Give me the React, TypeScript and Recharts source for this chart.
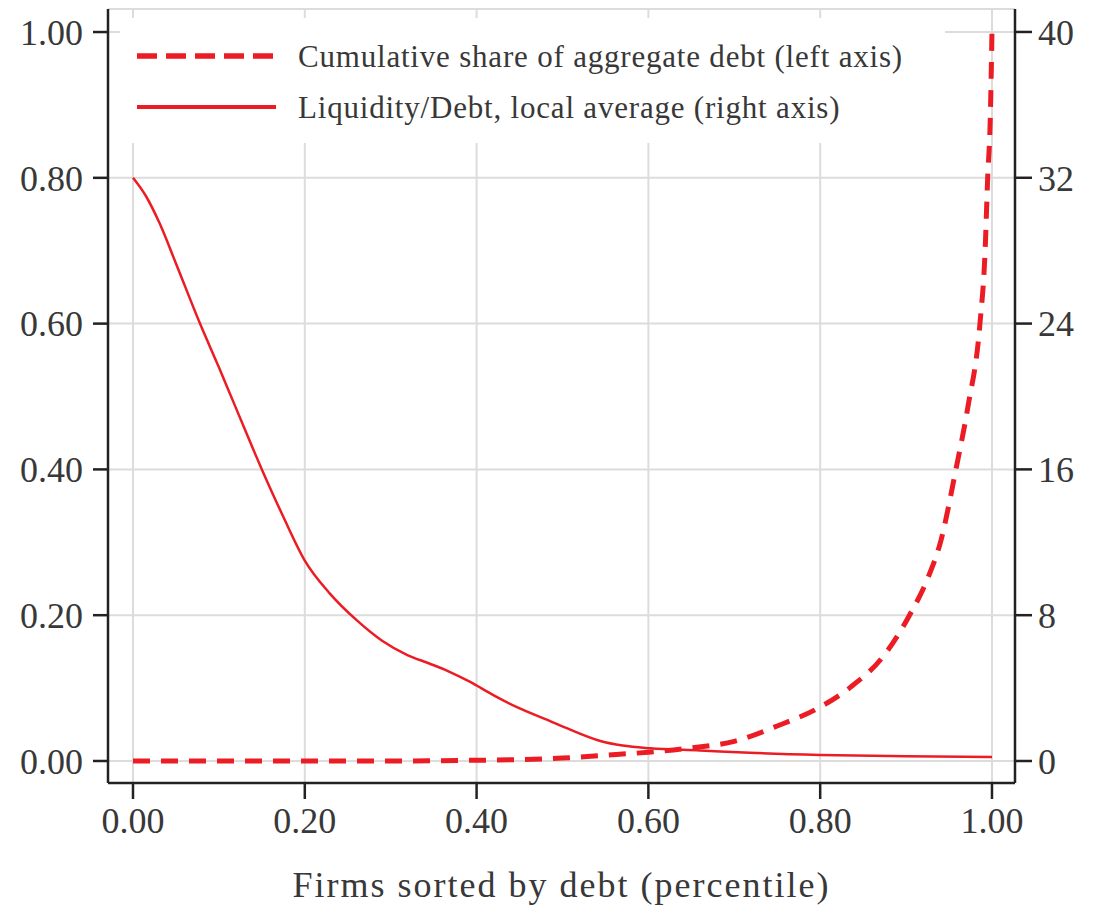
import React from 'react';
import { LineChart, Line, XAxis, YAxis, CartesianGrid, Legend } from 'recharts';

// Cumulative share of aggregate debt (left axis)
const debtPct = [0, 0.1, 0.2, 0.3, 0.4, 0.45, 0.5, 0.55, 0.6, 0.65, 0.7, 0.75, 0.8, 0.835, 0.873, 0.904, 0.925, 0.94, 0.958, 0.972, 0.986, 0.992, 0.995, 0.998, 1.0];
const debtShare = [0, 0, 0, 0, 0.001, 0.002, 0.004, 0.008, 0.012, 0.018, 0.027, 0.048, 0.074, 0.101, 0.143, 0.2, 0.25, 0.3, 0.4, 0.486, 0.6, 0.7, 0.8, 0.88, 1.0];

// Liquidity/Debt, local average (right axis)
const liqPct = [0, 0.015, 0.031, 0.05, 0.078, 0.1, 0.116, 0.15, 0.175, 0.2, 0.229, 0.261, 0.29, 0.32, 0.345, 0.366, 0.392, 0.42, 0.447, 0.485, 0.505, 0.544, 0.57, 0.602, 0.66, 0.718, 0.8, 0.9, 1.0];
const liqRatio = [32.0, 31.0, 29.5, 27.3, 24.0, 21.6, 19.8, 16.0, 13.4, 11.0, 9.2, 7.7, 6.6, 5.8, 5.35, 4.95, 4.35, 3.6, 2.95, 2.2, 1.8, 1.1, 0.85, 0.7, 0.58, 0.45, 0.33, 0.26, 0.22];

const xTicks = [0, 0.2, 0.4, 0.6, 0.8, 1.0];
const leftTicks = [0, 0.2, 0.4, 0.6, 0.8, 1.0];
const rightTicks = [0, 8, 16, 24, 32, 40];

const seriesNames = [
  'Cumulative share of aggregate debt (left axis)',
  'Liquidity/Debt, local average (right axis)',
];
const xLabel = 'Firms sorted by debt (percentile)';

const debtData = debtPct.map((p, i) => ({ p, v: debtShare[i] }));
const liqData = liqPct.map((p, i) => ({ p, r: liqRatio[i] }));

const FONT = '"Liberation Serif", "Times New Roman", serif';
const RED = '#ec1c24';
const AXIS = '#222';
const TXT = '#383838';

const X_DOMAIN: [number, number] = [-0.0291, 1.0268];
const L_DOMAIN: [number, number] = [-0.0302, 1.0316];
const R_DOMAIN: [number, number] = [-1.207, 41.26];

const tickStyle = { fontSize: 36, fill: TXT, fontFamily: FONT };

const LegendBox = () => (
  <svg width={825} height={125} style={{ display: 'block' }}>
    <rect x={0} y={0} width={825} height={125} fill="#fff" />
    <line x1={17} x2={156} y1={38} y2={38} stroke={RED} strokeWidth={5.5} strokeDasharray="20 9" />
    <text x={178} y={49} fontSize={31} fontFamily={FONT} fill={TXT} style={{ letterSpacing: '0.8px' }}>
      {seriesNames[0]}
    </text>
    <line x1={17} x2={156} y1={89} y2={89} stroke={RED} strokeWidth={4} />
    <text x={178} y={100} fontSize={31} fontFamily={FONT} fill={TXT} style={{ letterSpacing: '0.8px' }}>
      {seriesNames[1]}
    </text>
  </svg>
);

export default function App() {
  return (
    <div style={{ width: 1090, height: 900 }}>
      <LineChart width={1090} height={900} margin={{ top: 1, right: 0, bottom: 7, left: 0 }}>
        <CartesianGrid yAxisId="left" stroke="#dcdcdc" strokeWidth={2} />
        <XAxis
          type="number"
          dataKey="p"
          domain={X_DOMAIN}
          ticks={xTicks}
          allowDataOverflow
          tickFormatter={(v: number) => v.toFixed(2)}
          height={118}
          tickSize={16}
          tickMargin={8}
          axisLine={{ stroke: AXIS, strokeWidth: 2.5 }}
          tickLine={{ stroke: AXIS, strokeWidth: 2.5 }}
          tick={tickStyle}
          label={{
            value: xLabel,
            position: 'insideBottom',
            offset: 4,
            fill: TXT,
            fontSize: 36,
            fontFamily: FONT,
            style: { letterSpacing: '2px' },
          }}
        />
        <XAxis
          xAxisId="top"
          orientation="top"
          type="number"
          domain={X_DOMAIN}
          allowDataOverflow
          height={0}
          tick={false}
          tickLine={false}
          axisLine={{ stroke: AXIS, strokeWidth: 2.5 }}
        />
        <YAxis
          yAxisId="left"
          type="number"
          domain={L_DOMAIN}
          ticks={leftTicks}
          allowDataOverflow
          tickFormatter={(v: number) => v.toFixed(2)}
          width={100}
          tickSize={15}
          tickMargin={10}
          axisLine={{ stroke: AXIS, strokeWidth: 2.5 }}
          tickLine={{ stroke: AXIS, strokeWidth: 2.5 }}
          tick={tickStyle}
        />
        <YAxis
          yAxisId="right"
          orientation="right"
          type="number"
          domain={R_DOMAIN}
          ticks={rightTicks}
          allowDataOverflow
          width={83}
          tickSize={17}
          tickMargin={6}
          axisLine={{ stroke: AXIS, strokeWidth: 2.5 }}
          tickLine={{ stroke: AXIS, strokeWidth: 2.5 }}
          tick={tickStyle}
        />
        <Legend
          layout="vertical"
          align="center"
          verticalAlign="middle"
          content={() => <LegendBox />}
          wrapperStyle={{ left: 112, top: 10, width: 825, height: 125 }}
        />
        <Line
          yAxisId="right"
          data={liqData}
          dataKey="r"
          name={seriesNames[1]}
          type="monotone"
          stroke={RED}
          strokeWidth={2.5}
          dot={false}
          activeDot={false}
          isAnimationActive={false}
        />
        <Line
          yAxisId="left"
          data={debtData}
          dataKey="v"
          name={seriesNames[0]}
          type="monotone"
          stroke={RED}
          strokeWidth={5}
          strokeDasharray="17 11"
          dot={false}
          activeDot={false}
          isAnimationActive={false}
        />
      </LineChart>
    </div>
  );
}
